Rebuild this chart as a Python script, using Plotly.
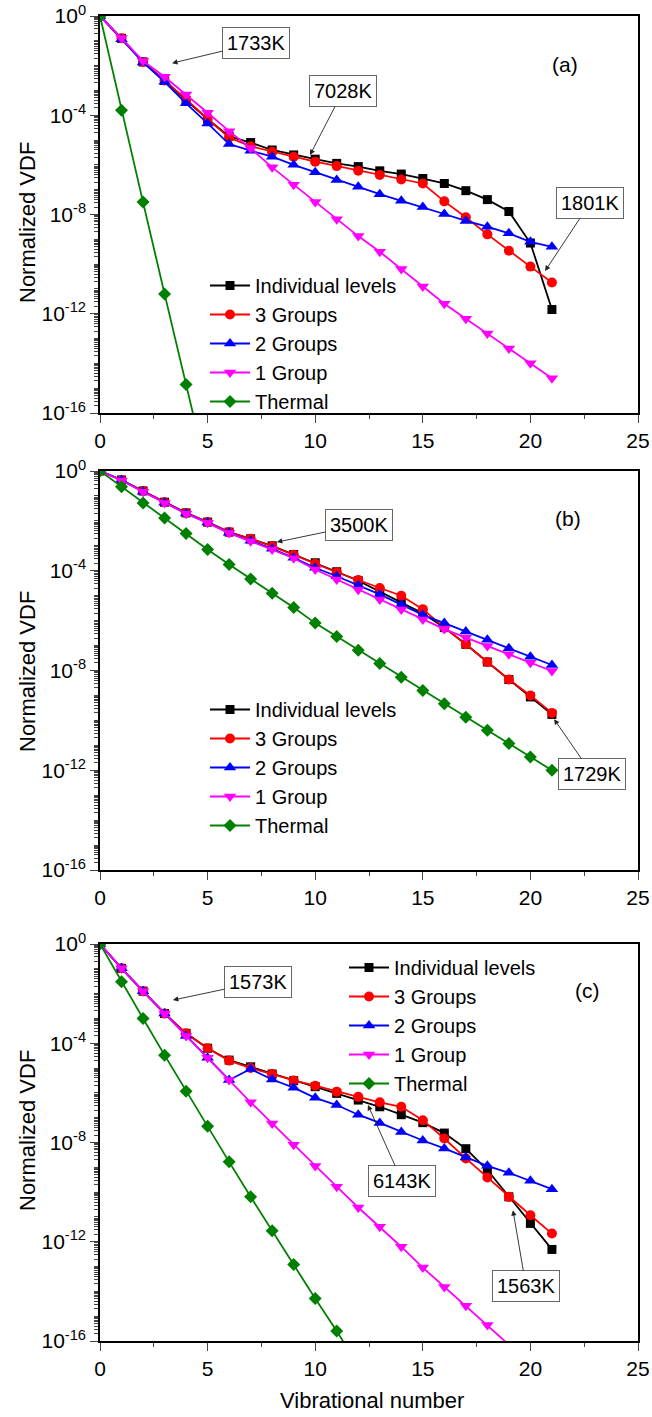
import plotly.graph_objects as go

W, H = 652, 1417
FONT = "Liberation Sans, Arial, sans-serif"

levels = list(range(0, 22))
series_names = ["Individual levels", "3 Groups", "2 Groups", "1 Group", "Thermal"]
colors = ["#000000", "#FF0000", "#0000FF", "#FF00FF", "#008000"]
symbols = ["square", "circle", "triangle-up", "triangle-down", "diamond"]
msizes = [9, 10, 11, 11, 10]

# exponents (log10 of normalized VDF)
a_individual = [0, -0.9, -1.85, -2.6, -3.4, -4.15, -4.85, -5.1, -5.4, -5.6, -5.77, -5.94, -6.07, -6.24, -6.37, -6.55, -6.75, -7.04, -7.4, -7.88, -9.15, -11.83]
a_group3 = [0, -0.9, -1.85, -2.6, -3.35, -4.15, -4.9, -5.25, -5.47, -5.67, -5.87, -6.05, -6.24, -6.41, -6.59, -6.75, -7.47, -8.11, -8.8, -9.46, -10.1, -10.74]
a_group2 = [0, -0.94, -1.87, -2.65, -3.52, -4.33, -5.16, -5.43, -5.67, -6.0, -6.3, -6.61, -6.88, -7.18, -7.45, -7.7, -7.98, -8.26, -8.49, -8.76, -9.1, -9.3]
a_group1 = [0, -0.89, -1.81, -2.45, -3.16, -3.9, -4.64, -5.33, -6.1, -6.8, -7.5, -8.19, -8.87, -9.5, -10.2, -10.9, -11.6, -12.2, -12.8, -13.4, -14.0, -14.6]
a_thermal = [0, -3.8, -7.5, -11.2, -14.85, -18.5]

b_individual = [0, -0.36, -0.8, -1.25, -1.68, -2.05, -2.45, -2.72, -3.0, -3.35, -3.68, -4.04, -4.4, -4.83, -5.27, -5.71, -6.28, -6.95, -7.66, -8.36, -9.06, -9.76]
b_group3 = [0, -0.36, -0.8, -1.25, -1.68, -2.05, -2.45, -2.72, -3.02, -3.36, -3.72, -4.06, -4.37, -4.69, -5.0, -5.54, -6.28, -6.95, -7.66, -8.36, -9.0, -9.7]
b_group2 = [0, -0.36, -0.83, -1.27, -1.7, -2.07, -2.48, -2.8, -3.12, -3.48, -3.88, -4.22, -4.58, -4.95, -5.36, -5.77, -6.1, -6.44, -6.77, -7.11, -7.45, -7.78]
b_group1 = [0, -0.38, -0.83, -1.28, -1.71, -2.08, -2.49, -2.82, -3.15, -3.5, -3.95, -4.35, -4.76, -5.15, -5.55, -5.95, -6.34, -6.68, -7.02, -7.35, -7.69, -8.02]
b_thermal = [0, -0.63, -1.28, -1.88, -2.51, -3.15, -3.75, -4.33, -4.9, -5.47, -6.1, -6.64, -7.19, -7.72, -8.27, -8.8, -9.33, -9.87, -10.4, -10.93, -11.47, -12.0]

c_individual = [0, -0.98, -1.9, -2.8, -3.6, -4.2, -4.68, -4.95, -5.24, -5.51, -5.75, -6.02, -6.29, -6.56, -6.88, -7.2, -7.62, -8.25, -9.11, -10.19, -11.26, -12.31]
c_group3 = [0, -0.98, -1.9, -2.8, -3.6, -4.2, -4.7, -5.0, -5.24, -5.5, -5.71, -5.95, -6.16, -6.38, -6.56, -7.1, -7.84, -8.64, -9.41, -10.19, -10.93, -11.67]
c_group2 = [0, -0.98, -1.9, -2.8, -3.71, -4.58, -5.48, -5.04, -5.46, -5.79, -6.2, -6.49, -6.88, -7.21, -7.58, -7.92, -8.24, -8.6, -8.94, -9.22, -9.54, -9.88]
c_group1 = [0, -0.98, -1.9, -2.8, -3.71, -4.58, -5.48, -6.38, -7.23, -8.09, -8.95, -9.78, -10.62, -11.4, -12.2, -13.04, -13.82, -14.58, -15.36, -16.15]
c_thermal = [0, -1.52, -3.0, -4.48, -5.93, -7.35, -8.78, -10.19, -11.56, -12.92, -14.29, -15.6, -17.0]

panels_data = [
    [a_individual, a_group3, a_group2, a_group1, a_thermal],
    [b_individual, b_group3, b_group2, b_group1, b_thermal],
    [c_individual, c_group3, c_group2, c_group1, c_thermal],
]
panel_labels = ["(a)", "(b)", "(c)"]

y_tickvals = [1e0, 1e-4, 1e-8, 1e-12, 1e-16]
y_ticktext = ["10<sup>0</sup>", "10<sup>-4</sup>", "10<sup>-8</sup>", "10<sup>-12</sup>", "10<sup>-16</sup>"]
x_tickvals = [0, 5, 10, 15, 20, 25]

# layout geometry in pixels
plot_left, plot_right = 100, 638
panel_px = [(16, 413), (471, 870), (944, 1341)]
legend_px = [(205, 266), (205, 690), (344, 948)]
label_px = [(565, 65), (568, 518), (587, 990)]
ytitle_px = [223, 672, 1131]

fig = go.Figure()

for p, data in enumerate(panels_data):
    xa = "x" if p == 0 else f"x{p+1}"
    ya = "y" if p == 0 else f"y{p+1}"
    lg = "legend" if p == 0 else f"legend{p+1}"
    for s, vals in enumerate(data):
        fig.add_trace(go.Scatter(
            x=levels[:len(vals)], y=[10 ** v for v in vals],
            mode="lines+markers", name=series_names[s],
            line=dict(color=colors[s], width=1.8),
            marker=dict(symbol=symbols[s], size=msizes[s], color=colors[s]),
            xaxis=xa, yaxis=ya, legend=lg,
        ))

axis_font = dict(family=FONT, size=21, color="black")
layout = dict(
    width=W, height=H, margin=dict(l=0, r=0, t=0, b=0, autoexpand=False),
    paper_bgcolor="white", plot_bgcolor="white",
    font=dict(family=FONT, size=21, color="black"),
    showlegend=True,
)
for p, (top, bot) in enumerate(panel_px):
    sx = "" if p == 0 else str(p + 1)
    layout["xaxis" + sx] = dict(
        domain=[plot_left / W, plot_right / W], anchor="y" + sx,
        range=[0, 25], tickvals=x_tickvals, ticks="outside", ticklen=8, tickwidth=1.3,
        showline=True, linecolor="black", linewidth=1.5, mirror=True, showgrid=False,
        zeroline=False, tickfont=axis_font, automargin=False,
        minor=dict(tickvals=[2.5, 7.5, 12.5, 17.5, 22.5], ticks="outside", ticklen=4, tickwidth=1.1),
    )
    layout["yaxis" + sx] = dict(
        domain=[1 - bot / H, 1 - top / H], anchor="x" + sx,
        type="log", range=[-16, 0], tickvals=y_tickvals, ticktext=y_ticktext,
        ticks="outside", ticklen=8, tickwidth=1.3,
        showline=True, linecolor="black", linewidth=1.5, mirror=True, showgrid=False,
        zeroline=False, tickfont=axis_font, automargin=False,
        minor=dict(dtick="D1", ticks="outside", ticklen=4, tickwidth=1.1),
    )
    lx, ly = legend_px[p]
    layout["legend" if p == 0 else f"legend{p+1}"] = dict(
        x=lx / W, y=1 - ly / H, xanchor="left", yanchor="top",
        bgcolor="rgba(0,0,0,0)", borderwidth=0, font=dict(family=FONT, size=20),
        tracegroupgap=0, itemwidth=40,
    )
fig.update_layout(**layout)

annotations = []
for p in range(3):
    lx, ly = label_px[p]
    annotations.append(dict(x=lx / W, y=1 - ly / H, xref="paper", yref="paper",
                            xanchor="center", yanchor="middle",
                            text=panel_labels[p], showarrow=False, font=dict(size=21)))
    annotations.append(dict(x=27 / W, y=1 - ytitle_px[p] / H, xref="paper", yref="paper",
                            xanchor="center", yanchor="middle",
                            text="Normalized VDF", textangle=-90, showarrow=False,
                            font=dict(size=22)))
annotations.append(dict(x=372 / W, y=1 - 1400 / H, xref="paper", yref="paper",
                        xanchor="center", yanchor="middle",
                        text="Vibrational number", showarrow=False, font=dict(size=22)))

# temperature call-outs: (panel, text, x level, log10 value, ax, ay)
callouts = [
    (0, "1733K", 3.35, -1.9, 84, -20),
    (0, "7028K", 9.76, -5.6, 33, -64),
    (0, "1801K", 20.68, -10.28, 45, -68),
    (1, "3500K", 8.22, -2.85, 82, -17),
    (1, "1729K", 21.1, -9.95, 38, 55),
    (2, "1573K", 3.39, -2.26, 85, -18),
    (2, "6143K", 12.45, -6.49, 34, 76),
    (2, "1563K", 19.19, -10.73, 13, 76),
]
for p, txt, xv, yv, ax, ay in callouts:
    sx = "" if p == 0 else str(p + 1)
    annotations.append(dict(
        x=xv, y=yv, xref="x" + sx, yref="y" + sx, text=txt, showarrow=True,
        ax=ax, ay=ay, arrowhead=2, arrowsize=1.2, arrowwidth=0.9, arrowcolor="#222",
        bordercolor="#666", borderwidth=1, borderpad=4, bgcolor="white",
        font=dict(size=20),
    ))
fig.update_layout(annotations=annotations)

fig.write_html(
    "out.html",
    config={"displayModeBar": False},
    post_script="document.body.style.margin='0px';document.body.style.overflow='hidden';",
)
